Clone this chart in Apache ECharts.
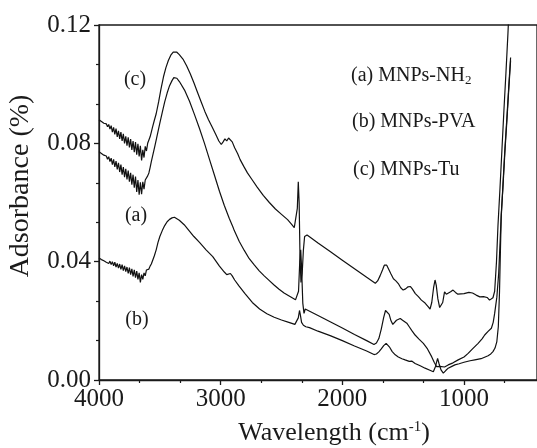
<!DOCTYPE html>
<html>
<head>
<meta charset="utf-8">
<script src="https://cdn.jsdelivr.net/npm/echarts/dist/echarts.min.js"></script>
<style>
html,body{margin:0;padding:0;background:#fff;}
#chart{width:537px;height:448px;}
</style>
</head>
<body>
<div id="chart"></div>
<script>
// ---- data (wavenumber in cm-1, absorbance) ----
const noiseWavenumbers = [4000,3990,3980,3970,3960,3950,3940,3930,3920,3910,3900,3890,3880,3870,3860,3850,3840,3830,3820,3810,3800,3790,3780,3770,3760,3750,3740,3730,3720,3710,3700,3690,3680,3670,3660,3650,3640,3630,3620,3610,3600];

const tuNoisy = [0.0880,0.0877,0.0874,0.0870,0.0868,0.0864,0.0866,0.0856,0.0864,0.0848,0.0860,0.0838,0.0854,0.0830,0.0850,0.0822,0.0842,0.0815,0.0838,0.0808,0.0832,0.0800,0.0824,0.0792,0.0820,0.0786,0.0814,0.0778,0.0808,0.0770,0.0804,0.0762,0.0798,0.0756,0.0792,0.0742,0.0778,0.0752,0.0790,0.0774,0.0800];
const tuTail = [[3590,0.0805],[3580,0.0822],[3570,0.0838],[3560,0.0855],[3545,0.0878],[3530,0.0900],[3510,0.0940],[3490,0.0985],[3470,0.1025],[3450,0.1056],[3430,0.1080],[3410,0.1098],[3390,0.1108],[3375,0.1111],[3360,0.1108],[3340,0.1100],[3310,0.1085],[3280,0.1062],[3250,0.1035],[3220,0.1005],[3190,0.0972],[3160,0.0940],[3130,0.0908],[3100,0.0880],[3070,0.0855],[3040,0.0830],[3015,0.0808],[2995,0.0796],[2980,0.0805],[2965,0.0815],[2950,0.0808],[2935,0.0818],[2920,0.0822],[2905,0.0805],[2885,0.0785],[2860,0.0765],[2840,0.0745],[2810,0.0722],[2780,0.0700],[2740,0.0676],[2700,0.0652],[2650,0.0624],[2600,0.0600],[2550,0.0578],[2500,0.0560],[2450,0.0542],[2420,0.0528],[2395,0.0515],[2380,0.0520],[2370,0.0580],[2362,0.0670],[2355,0.0600],[2348,0.0420],[2340,0.0330],[2330,0.0360],[2320,0.0440],[2310,0.0485],[2290,0.0490],[2270,0.0484],[2200,0.0463],[2100,0.0434],[2000,0.0405],[1900,0.0376],[1800,0.0347],[1750,0.0333],[1729,0.0327],[1710,0.0335],[1690,0.0352],[1670,0.0372],[1655,0.0388],[1645,0.0394],[1635,0.0388],[1620,0.0375],[1600,0.0358],[1580,0.0342],[1560,0.0335],[1540,0.0326],[1520,0.0312],[1500,0.0304],[1480,0.0308],[1460,0.0315],[1440,0.0316],[1425,0.0308],[1400,0.0292],[1375,0.0282],[1350,0.0270],[1320,0.0260],[1295,0.0248],[1279,0.0240],[1265,0.0262],[1250,0.0312],[1238,0.0338],[1228,0.0320],[1215,0.0275],[1200,0.0245],[1185,0.0240],[1175,0.0262],[1160,0.0298],[1145,0.0290],[1130,0.0287],[1110,0.0298],[1090,0.0304],[1070,0.0296],[1050,0.0290],[1000,0.0292],[960,0.0296],[930,0.0294],[900,0.0287],[870,0.0281],[840,0.0282],[810,0.0279],[790,0.0270],[775,0.0268],[762,0.0278],[748,0.0300],[733,0.0400],[721,0.0520],[704,0.0650],[688,0.0780],[672,0.0910],[655,0.1040],[639,0.1170],[625,0.1300]];

const nh2Noisy = [0.0772,0.0769,0.0766,0.0762,0.0760,0.0755,0.0757,0.0746,0.0755,0.0738,0.0750,0.0728,0.0746,0.0720,0.0740,0.0712,0.0734,0.0703,0.0728,0.0694,0.0720,0.0686,0.0714,0.0678,0.0708,0.0670,0.0700,0.0660,0.0694,0.0650,0.0688,0.0636,0.0676,0.0626,0.0668,0.0628,0.0670,0.0645,0.0676,0.0672,0.0690];
const nh2Tail = [[3590,0.0700],[3580,0.0718],[3570,0.0738],[3555,0.0765],[3540,0.0792],[3520,0.0830],[3500,0.0868],[3480,0.0905],[3460,0.0940],[3440,0.0970],[3420,0.0995],[3400,0.1012],[3385,0.1022],[3375,0.1025],[3360,0.1020],[3338,0.1008],[3297,0.0980],[3256,0.0942],[3215,0.0897],[3174,0.0850],[3133,0.0800],[3092,0.0746],[3051,0.0692],[3010,0.0638],[2970,0.0590],[2929,0.0546],[2900,0.0518],[2888,0.0505],[2847,0.0468],[2806,0.0438],[2765,0.0410],[2724,0.0389],[2683,0.0369],[2642,0.0352],[2600,0.0336],[2561,0.0321],[2520,0.0307],[2479,0.0294],[2430,0.0282],[2385,0.0271],[2370,0.0268],[2360,0.0300],[2350,0.0400],[2342,0.0440],[2335,0.0380],[2325,0.0260],[2315,0.0225],[2305,0.0240],[2290,0.0237],[2200,0.0218],[2100,0.0197],[2000,0.0176],[1900,0.0154],[1800,0.0133],[1740,0.0120],[1720,0.0125],[1700,0.0140],[1680,0.0172],[1660,0.0212],[1645,0.0235],[1630,0.0237],[1615,0.0222],[1600,0.0200],[1585,0.0188],[1570,0.0192],[1555,0.0202],[1540,0.0208],[1524,0.0208],[1505,0.0202],[1490,0.0198],[1470,0.0192],[1450,0.0180],[1430,0.0168],[1402,0.0152],[1370,0.0138],[1334,0.0124],[1300,0.0105],[1266,0.0079],[1245,0.0060],[1225,0.0045],[1210,0.0050],[1200,0.0046],[1184,0.0040],[1160,0.0044],[1130,0.0051],[1090,0.0058],[1048,0.0068],[1000,0.0078],[966,0.0090],[930,0.0105],[884,0.0124],[850,0.0140],[830,0.0152],[800,0.0165],[775,0.0175],[760,0.0195],[748,0.0225],[730,0.0280],[715,0.0360],[705,0.0450],[694,0.0560],[680,0.0650],[664,0.0770],[647,0.0880],[631,0.0990],[617,0.1080]];

const pvaNoisy = [0.0412,0.0410,0.0407,0.0406,0.0403,0.0404,0.0398,0.0404,0.0394,0.0402,0.0390,0.0400,0.0386,0.0398,0.0382,0.0394,0.0378,0.0392,0.0374,0.0390,0.0370,0.0386,0.0366,0.0382,0.0360,0.0380,0.0356,0.0376,0.0350,0.0372,0.0346,0.0368,0.0340,0.0362,0.0330,0.0356,0.0340,0.0362,0.0352,0.0372,0.0372];
const pvaTail = [[3590,0.0375],[3580,0.0385],[3570,0.0392],[3560,0.0403],[3545,0.0420],[3530,0.0440],[3515,0.0465],[3500,0.0485],[3480,0.0505],[3460,0.0522],[3440,0.0535],[3420,0.0543],[3400,0.0548],[3380,0.0550],[3340,0.0540],[3300,0.0525],[3260,0.0505],[3220,0.0485],[3174,0.0465],[3120,0.0440],[3065,0.0417],[3010,0.0385],[2970,0.0365],[2950,0.0356],[2935,0.0355],[2920,0.0360],[2905,0.0352],[2885,0.0338],[2850,0.0318],[2800,0.0292],[2740,0.0262],[2680,0.0240],[2620,0.0224],[2560,0.0212],[2500,0.0203],[2440,0.0195],[2390,0.0188],[2375,0.0187],[2362,0.0210],[2352,0.0235],[2345,0.0220],[2335,0.0195],[2320,0.0185],[2300,0.0180],[2270,0.0177],[2200,0.0165],[2100,0.0150],[2000,0.0133],[1900,0.0115],[1800,0.0098],[1740,0.0086],[1720,0.0088],[1700,0.0095],[1680,0.0105],[1660,0.0116],[1640,0.0124],[1625,0.0122],[1610,0.0110],[1590,0.0096],[1565,0.0085],[1540,0.0078],[1510,0.0072],[1484,0.0068],[1450,0.0063],[1430,0.0064],[1402,0.0056],[1360,0.0048],[1320,0.0040],[1285,0.0034],[1252,0.0028],[1235,0.0045],[1217,0.0073],[1205,0.0055],[1189,0.0034],[1170,0.0023],[1150,0.0032],[1130,0.0040],[1100,0.0046],[1075,0.0051],[1040,0.0055],[1000,0.0060],[950,0.0065],[911,0.0068],[860,0.0072],[802,0.0082],[780,0.0088],[762,0.0096],[745,0.0108],[730,0.0130],[718,0.0180],[708,0.0300],[700,0.0450],[694,0.0550],[680,0.0660],[664,0.0780],[647,0.0890],[631,0.1000],[617,0.1090]];

const xMajorTicks = [1000,2000,3000,4000];
const xMinorTicks = [3667,3333,2667,2333,1667,1333,667];

const seriesNames = ['MNPs-NH2','MNPs-PVA','MNPs-Tu'];

function build(noisy, tail){
  return noiseWavenumbers.map((w,i)=>[w, noisy[i]]).concat(tail);
}

const FONT = "'Liberation Serif','Times New Roman',serif";
const INK = '#1a1a1a';

const chart = echarts.init(document.getElementById('chart'), null, {renderer:'canvas'});
const lineStyle = {color:'#111', width:1.2};

chart.setOption({
  animation:false,
  backgroundColor:'#fff',
  grid:{left:99, top:25, width:440, height:355, show:true, borderColor:INK, borderWidth:1.3, backgroundColor:'transparent'},
  xAxis:[{
    type:'value', inverse:true, min:400, max:4000, position:'bottom',
    axisLine:{show:true, lineStyle:{color:INK, width:1.3}},
    axisTick:{show:true, inside:false, length:5, customValues:xMajorTicks, lineStyle:{color:INK, width:1.3}},
    axisLabel:{show:true, customValues:xMajorTicks, margin:7, fontFamily:FONT, fontSize:25, color:INK, formatter:v=>String(Math.round(v))},
    splitLine:{show:false}
  },{
    type:'value', inverse:true, min:400, max:4000, position:'bottom', offset:0,
    axisLine:{show:false},
    axisTick:{show:true, inside:false, length:3, customValues:xMinorTicks, lineStyle:{color:INK, width:1.2}},
    axisLabel:{show:false},
    splitLine:{show:false}
  }],
  yAxis:{
    type:'value', min:0, max:0.12, interval:0.04,
    axisLine:{show:true, lineStyle:{color:INK, width:1.3}},
    axisTick:{show:true, inside:false, length:5, lineStyle:{color:INK, width:1.3}},
    minorTick:{show:true, splitNumber:3, length:3, lineStyle:{color:INK, width:1.2}},
    axisLabel:{margin:8, fontFamily:FONT, fontSize:25, color:INK, formatter:v=>v.toFixed(2)},
    splitLine:{show:false}
  },
  series:[
    {name:seriesNames[0], type:'line', showSymbol:false, clip:true, lineStyle, data:build(nh2Noisy, nh2Tail)},
    {name:seriesNames[1], type:'line', showSymbol:false, clip:true, lineStyle, data:build(pvaNoisy, pvaTail)},
    {name:seriesNames[2], type:'line', showSymbol:false, clip:true, lineStyle, data:build(tuNoisy, tuTail)}
  ],
  graphic:[
    {type:'text', x:351, y:76, style:{text:'(a) MNPs-NH{sub|2}', font:'20px '+FONT, fill:INK, align:'left', verticalAlign:'middle',
      rich:{sub:{fontSize:13, fontFamily:FONT, fill:INK, padding:[10,0,0,0]}}}},
    {type:'text', x:352, y:122, style:{text:'(b) MNPs-PVA', font:'20px '+FONT, fill:INK, align:'left', verticalAlign:'middle'}},
    {type:'text', x:353, y:170, style:{text:'(c) MNPs-Tu', font:'20px '+FONT, fill:INK, align:'left', verticalAlign:'middle'}},
    {type:'text', x:135, y:80, style:{text:'(c)', font:'20px '+FONT, fill:INK, align:'center', verticalAlign:'middle'}},
    {type:'text', x:136, y:216, style:{text:'(a)', font:'20px '+FONT, fill:INK, align:'center', verticalAlign:'middle'}},
    {type:'text', x:137, y:320, style:{text:'(b)', font:'20px '+FONT, fill:INK, align:'center', verticalAlign:'middle'}},
    {type:'text', x:334, y:433, style:{text:'Wavelength (cm{sup|-1})', font:'26px '+FONT, fill:INK, align:'center', verticalAlign:'middle',
      rich:{sup:{fontSize:15, fontFamily:FONT, fill:INK, padding:[0,0,12,0]}}}},
    {type:'text', x:21, y:186, rotation:Math.PI/2, style:{text:'Adsorbance (%)', font:'28px '+FONT, fill:INK, align:'center', verticalAlign:'middle'}}
  ]
});
</script>
</body>
</html>
